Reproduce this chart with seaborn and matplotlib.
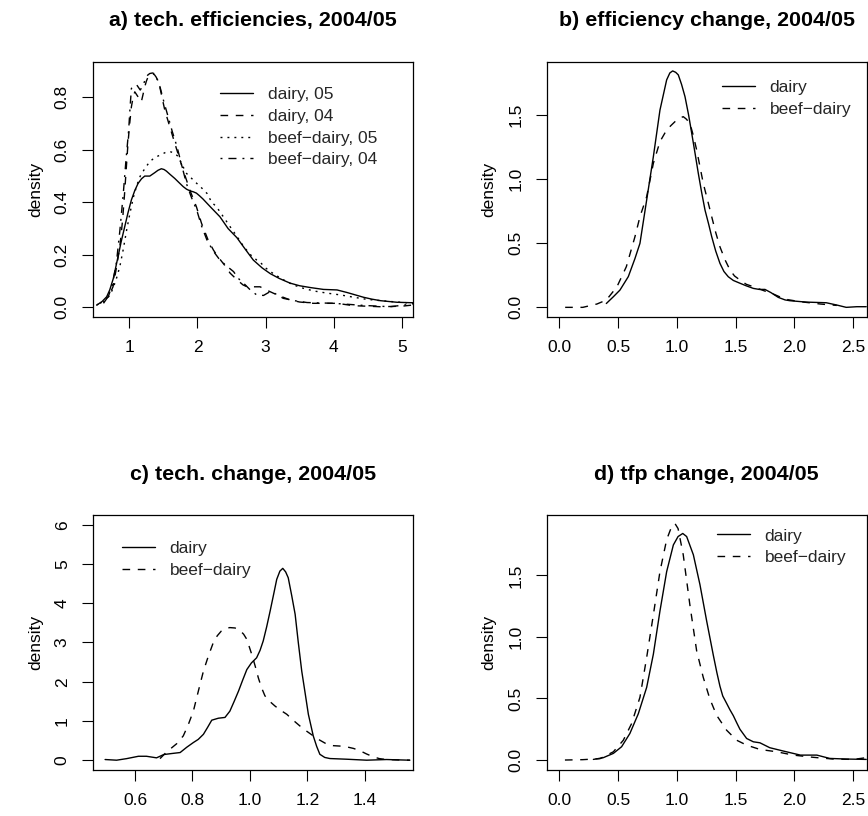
import numpy as np
import pandas as pd
import matplotlib
matplotlib.use("Agg")
import matplotlib.pyplot as plt
import seaborn as sns

# ---------------- data ----------------
# a) technical efficiencies
a_d05_x = [0.52, 0.60, 0.667, 0.712, 0.765, 0.834, 0.88, 0.932, 0.98, 1.03, 1.08, 1.128, 1.18, 1.226, 1.27, 1.30, 1.373, 1.42, 1.47, 1.51, 1.544, 1.60, 1.667, 1.73, 1.79, 1.84, 1.888, 1.94, 1.985, 2.03, 2.08, 2.20, 2.33, 2.45, 2.58, 2.70, 2.82, 2.95, 3.07, 3.20, 3.36, 3.50, 3.66, 3.85, 4.05, 4.2, 4.32, 4.44, 4.56, 4.69, 4.93, 5.18]
a_d05_y = [0.008, 0.022, 0.04, 0.066, 0.11, 0.193, 0.25, 0.307, 0.36, 0.409, 0.445, 0.472, 0.49, 0.50, 0.50, 0.50, 0.513, 0.522, 0.528, 0.525, 0.519, 0.506, 0.491, 0.475, 0.46, 0.45, 0.444, 0.44, 0.435, 0.425, 0.413, 0.38, 0.345, 0.30, 0.265, 0.222, 0.18, 0.15, 0.128, 0.11, 0.092, 0.082, 0.075, 0.068, 0.066, 0.056, 0.047, 0.038, 0.031, 0.025, 0.019, 0.017]
a_d04_x = [0.62, 0.66, 0.72, 0.76, 0.81, 0.86, 0.90, 0.93, 0.955, 0.98, 1.005, 1.03, 1.055, 1.08, 1.128, 1.176, 1.20, 1.226, 1.25, 1.275, 1.31, 1.338, 1.37, 1.397, 1.42, 1.447, 1.48, 1.52, 1.594, 1.69, 1.79, 1.888, 1.985, 2.06, 2.157, 2.235, 2.30, 2.40, 2.48, 2.58, 2.67, 2.73, 2.82, 2.92, 3.02, 3.12, 3.24, 3.36, 3.50, 3.7, 4.05, 4.29, 4.69, 5.0, 5.18]
a_d04_y = [0.015, 0.03, 0.055, 0.078, 0.15, 0.231, 0.33, 0.434, 0.53, 0.625, 0.70, 0.764, 0.80, 0.821, 0.802, 0.783, 0.81, 0.84, 0.862, 0.878, 0.888, 0.891, 0.886, 0.876, 0.86, 0.84, 0.80, 0.752, 0.688, 0.606, 0.523, 0.447, 0.383, 0.32, 0.256, 0.218, 0.193, 0.16, 0.13, 0.105, 0.085, 0.078, 0.078, 0.078, 0.065, 0.053, 0.04, 0.028, 0.02, 0.015, 0.015, 0.006, 0.002, 0.004, 0.009]
a_b05_x = [0.52, 0.62, 0.72, 0.80, 0.86, 0.91, 0.96, 1.01, 1.06, 1.11, 1.16, 1.23, 1.30, 1.37, 1.45, 1.53, 1.60, 1.66, 1.72, 1.78, 1.84, 1.90, 1.965, 2.05, 2.14, 2.21, 2.28, 2.38, 2.48, 2.58, 2.68, 2.78, 2.87, 2.92, 3.00, 3.12, 3.26, 3.41, 3.56, 3.71, 3.90, 4.10, 4.30, 4.49, 4.70, 4.88, 5.18]
a_b05_y = [0.009, 0.02, 0.047, 0.10, 0.155, 0.22, 0.294, 0.36, 0.42, 0.465, 0.50, 0.53, 0.555, 0.57, 0.58, 0.59, 0.593, 0.588, 0.574, 0.54, 0.51, 0.495, 0.478, 0.458, 0.434, 0.40, 0.383, 0.345, 0.307, 0.27, 0.231, 0.20, 0.18, 0.172, 0.15, 0.127, 0.105, 0.085, 0.072, 0.062, 0.054, 0.047, 0.038, 0.03, 0.025, 0.021, 0.015]
a_b04_x = [0.57, 0.63, 0.69, 0.75, 0.81, 0.86, 0.91, 0.95, 0.99, 1.01, 1.03, 1.07, 1.11, 1.16, 1.20, 1.23, 1.27, 1.30, 1.34, 1.38, 1.41, 1.45, 1.51, 1.57, 1.63, 1.70, 1.77, 1.84, 1.91, 1.99, 2.06, 2.14, 2.23, 2.33, 2.43, 2.53, 2.60, 2.68, 2.78, 2.87, 2.97, 3.07, 3.12, 3.26, 3.45, 3.61, 4.0, 4.44, 4.83, 5.18]
a_b04_y = [0.015, 0.025, 0.04, 0.085, 0.17, 0.29, 0.43, 0.56, 0.675, 0.76, 0.834, 0.845, 0.847, 0.828, 0.845, 0.866, 0.885, 0.891, 0.893, 0.889, 0.87, 0.84, 0.78, 0.726, 0.67, 0.612, 0.54, 0.47, 0.42, 0.37, 0.31, 0.256, 0.215, 0.18, 0.157, 0.136, 0.11, 0.091, 0.065, 0.047, 0.045, 0.06, 0.055, 0.034, 0.024, 0.018, 0.015, 0.007, 0.002, 0.013]

# b) efficiency change
b_d_x = [0.40, 0.46, 0.516, 0.587, 0.643, 0.686, 0.743, 0.80, 0.856, 0.913, 0.94, 0.964, 0.99, 1.012, 1.04, 1.069, 1.10, 1.126, 1.155, 1.182, 1.21, 1.239, 1.27, 1.296, 1.33, 1.366, 1.40, 1.437, 1.48, 1.537, 1.59, 1.65, 1.70, 1.749, 1.80, 1.862, 1.92, 1.96, 2.10, 2.27, 2.36, 2.44, 2.53, 2.61]
b_d_y = [0.03, 0.083, 0.135, 0.24, 0.38, 0.50, 0.838, 1.177, 1.54, 1.776, 1.83, 1.846, 1.835, 1.815, 1.74, 1.645, 1.50, 1.36, 1.20, 1.047, 0.90, 0.76, 0.65, 0.552, 0.44, 0.344, 0.28, 0.239, 0.21, 0.188, 0.168, 0.148, 0.14, 0.14, 0.115, 0.078, 0.058, 0.052, 0.041, 0.036, 0.018, 0.0, 0.005, 0.005]
b_b_x = [0.05, 0.20, 0.32, 0.40, 0.49, 0.57, 0.643, 0.686, 0.743, 0.80, 0.856, 0.913, 0.95, 0.984, 1.02, 1.054, 1.08, 1.111, 1.14, 1.168, 1.196, 1.224, 1.26, 1.296, 1.33, 1.366, 1.41, 1.452, 1.49, 1.537, 1.59, 1.65, 1.71, 1.77, 1.82, 1.88, 1.93, 2.05, 2.22, 2.36]
b_b_y = [0.0, 0.0, 0.026, 0.057, 0.16, 0.317, 0.55, 0.708, 0.864, 1.125, 1.294, 1.385, 1.42, 1.45, 1.475, 1.489, 1.47, 1.437, 1.34, 1.229, 1.10, 0.969, 0.84, 0.708, 0.585, 0.473, 0.37, 0.291, 0.245, 0.213, 0.18, 0.161, 0.14, 0.12, 0.104, 0.08, 0.062, 0.044, 0.026, 0.015]

# c) technical change
c_d_x = [0.496, 0.536, 0.571, 0.612, 0.64, 0.675, 0.70, 0.728, 0.757, 0.78, 0.803, 0.82, 0.838, 0.852, 0.867, 0.89, 0.913, 0.930, 0.945, 0.96, 0.975, 0.989, 1.005, 1.023, 1.035, 1.046, 1.058, 1.07, 1.082, 1.093, 1.104, 1.114, 1.124, 1.133, 1.145, 1.157, 1.168, 1.18, 1.192, 1.203, 1.212, 1.22, 1.232, 1.243, 1.26, 1.278, 1.336, 1.406, 1.475, 1.556]
c_d_y = [0.017, 0.0, 0.04, 0.10, 0.10, 0.06, 0.144, 0.17, 0.195, 0.33, 0.45, 0.53, 0.66, 0.83, 1.02, 1.07, 1.09, 1.25, 1.50, 1.76, 2.05, 2.31, 2.48, 2.61, 2.80, 3.04, 3.40, 3.80, 4.22, 4.61, 4.82, 4.89, 4.80, 4.65, 4.20, 3.72, 3.00, 2.27, 1.70, 1.17, 0.88, 0.62, 0.35, 0.15, 0.07, 0.042, 0.025, 0.0, 0.017, 0.0]
c_b_x = [0.687, 0.71, 0.745, 0.768, 0.785, 0.803, 0.82, 0.838, 0.855, 0.872, 0.886, 0.90, 0.915, 0.93, 0.948, 0.965, 0.978, 0.989, 1.006, 1.018, 1.029, 1.04, 1.052, 1.07, 1.087, 1.105, 1.128, 1.15, 1.174, 1.197, 1.22, 1.243, 1.267, 1.29, 1.313, 1.336, 1.36, 1.383, 1.405, 1.429, 1.45, 1.475, 1.52, 1.556]
c_b_y = [0.04, 0.21, 0.42, 0.62, 0.90, 1.25, 1.75, 2.27, 2.65, 2.99, 3.17, 3.29, 3.36, 3.38, 3.37, 3.31, 3.21, 3.08, 2.70, 2.40, 2.10, 1.85, 1.64, 1.49, 1.38, 1.28, 1.17, 1.02, 0.87, 0.74, 0.62, 0.51, 0.41, 0.37, 0.36, 0.34, 0.30, 0.24, 0.16, 0.085, 0.04, 0.017, 0.005, 0.0]

# d) tfp change
d_d_x = [0.29, 0.374, 0.46, 0.53, 0.60, 0.672, 0.743, 0.80, 0.856, 0.913, 0.97, 1.01, 1.05, 1.083, 1.14, 1.196, 1.253, 1.31, 1.34, 1.366, 1.39, 1.423, 1.45, 1.48, 1.51, 1.536, 1.593, 1.65, 1.706, 1.79, 1.905, 2.05, 2.19, 2.30, 2.44, 2.61]
d_d_y = [0.005, 0.019, 0.054, 0.108, 0.215, 0.376, 0.59, 0.86, 1.21, 1.53, 1.747, 1.815, 1.84, 1.815, 1.667, 1.425, 1.13, 0.85, 0.71, 0.60, 0.52, 0.46, 0.41, 0.36, 0.30, 0.25, 0.175, 0.148, 0.14, 0.10, 0.073, 0.04, 0.04, 0.013, 0.008, 0.005]
d_b_x = [0.048, 0.20, 0.346, 0.46, 0.544, 0.615, 0.686, 0.743, 0.80, 0.856, 0.913, 0.955, 0.984, 1.01, 1.054, 1.11, 1.168, 1.224, 1.28, 1.338, 1.423, 1.508, 1.593, 1.706, 1.848, 1.99, 2.16, 2.33, 2.5, 2.61]
d_b_y = [0.0, 0.003, 0.011, 0.067, 0.16, 0.296, 0.51, 0.833, 1.18, 1.53, 1.79, 1.895, 1.92, 1.88, 1.667, 1.263, 0.887, 0.672, 0.497, 0.363, 0.242, 0.161, 0.121, 0.086, 0.067, 0.04, 0.022, 0.008, 0.005, 0.019]

titles = ["a) tech. efficiencies, 2004/05", "b) efficiency change, 2004/05",
          "c) tech. change, 2004/05", "d) tfp change, 2004/05"]
labels_a = ["dairy, 05", "dairy, 04", "beef\u2212dairy, 05", "beef\u2212dairy, 04"]
labels_2 = ["dairy", "beef\u2212dairy"]

a_xticks = [1, 2, 3, 4, 5]
a_yticks = [0.0, 0.2, 0.4, 0.6, 0.8]
bd_xticks = [0.0, 0.5, 1.0, 1.5, 2.0, 2.5]
bd_yticks = [0.0, 0.5, 1.0, 1.5]
c_xticks = [0.6, 0.8, 1.0, 1.2, 1.4]
c_yticks = [0, 1, 2, 3, 4, 5, 6]

# ---------------- styling ----------------
sns.set_theme(style="white")
plt.rcParams['font.family'] = ['Liberation Sans', 'DejaVu Sans']
FS = 12.5
TFS = 15.4
LW = 1.0
SOLID = '-'
DASH = (0, (5.5, 5.5))
DOT = (0, (1.4, 3.6))
DASHDOT = (0, (1.4, 4.3, 5.8, 4.3))

fig = plt.figure(figsize=(8.68, 8.16), dpi=100)
W = 320 / 868
H = 255 / 816
pos = {
    'a': [93.3 / 868, 1 - 316.7 / 816, W, H],
    'b': [546.7 / 868, 1 - 316.7 / 816, W, H],
    'c': [93.3 / 868, 1 - 770 / 816, W, H],
    'd': [546.7 / 868, 1 - 770 / 816, W, H],
}
axes = {k: fig.add_axes(v) for k, v in pos.items()}


def draw(ax, x, y, ls, label):
    df = pd.DataFrame({"x": x, "y": y})
    sns.lineplot(data=df, x="x", y="y", ax=ax, color="black", linewidth=LW,
                 linestyle=ls, label=label, sort=False, estimator=None)


def style(ax, title, xlim, ylim, xt, yt, xfmt, yfmt, leg_anchor):
    ax.set_xlim(*xlim)
    ax.set_ylim(*ylim)
    ax.set_xticks(xt)
    ax.set_yticks(yt)
    ax.set_xticklabels([xfmt.format(v) for v in xt])
    ax.set_yticklabels([yfmt.format(v) for v in yt], rotation=90, va='center')
    ax.tick_params(axis='both', which='both', direction='out', length=7.9,
                   width=0.8, color='black', labelsize=FS, labelcolor='black',
                   bottom=True, left=True, top=False, right=False)
    ax.tick_params(axis='x', pad=9)
    ax.tick_params(axis='y', pad=9)
    for s in ax.spines.values():
        s.set_visible(True)
        s.set_color('black')
        s.set_linewidth(0.9)
    ax.set_xlabel("")
    ax.set_ylabel("density", fontsize=FS, color='black')
    ax.yaxis.set_label_coords(-50 / 320, 0.5)
    ax.set_title(title, fontsize=TFS, fontweight='bold', pad=25.5, color='black')
    ax.set_facecolor('white')
    ax.legend(frameon=False, loc='upper left', bbox_to_anchor=leg_anchor,
              borderaxespad=0, borderpad=0, fontsize=FS, handlelength=1.9,
              handletextpad=0.85, labelspacing=0.38)


ax = axes['a']
draw(ax, a_d05_x, a_d05_y, SOLID, labels_a[0])
draw(ax, a_d04_x, a_d04_y, DASH, labels_a[1])
draw(ax, a_b05_x, a_b05_y, DOT, labels_a[2])
draw(ax, a_b04_x, a_b04_y, DASHDOT, labels_a[3])
style(ax, titles[0], (0.4706, 5.17), (-0.036, 0.936), a_xticks, a_yticks,
      "{:.0f}", "{:.1f}", ((220 - 93.3) / 320, 1 - 25.3 / 255))

ax = axes['b']
draw(ax, b_d_x, b_d_y, SOLID, labels_2[0])
draw(ax, b_b_x, b_b_y, DASH, labels_2[1])
style(ax, titles[1], (-0.107, 2.614), (-0.073, 1.918), bd_xticks, bd_yticks,
      "{:.1f}", "{:.1f}", ((721.7 - 546.7) / 320, 1 - 18.2 / 255))

ax = axes['c']
draw(ax, c_d_x, c_d_y, SOLID, labels_2[0])
draw(ax, c_b_x, c_b_y, DASH, labels_2[1])
style(ax, titles[2], (0.455, 1.568), (-0.25, 6.25), c_xticks, c_yticks,
      "{:.1f}", "{:.0f}", ((121.7 - 93.3) / 320, 1 - 25.8 / 255.7))

ax = axes['d']
draw(ax, d_d_x, d_d_y, SOLID, labels_2[0])
draw(ax, d_b_x, d_b_y, DASH, labels_2[1])
style(ax, titles[3], (-0.107, 2.614), (-0.081, 1.99), bd_xticks, bd_yticks,
      "{:.1f}", "{:.1f}", ((716.7 - 546.7) / 320, 1 - 13.5 / 256.7))

fig.savefig("out.png", dpi=100, facecolor='white')
